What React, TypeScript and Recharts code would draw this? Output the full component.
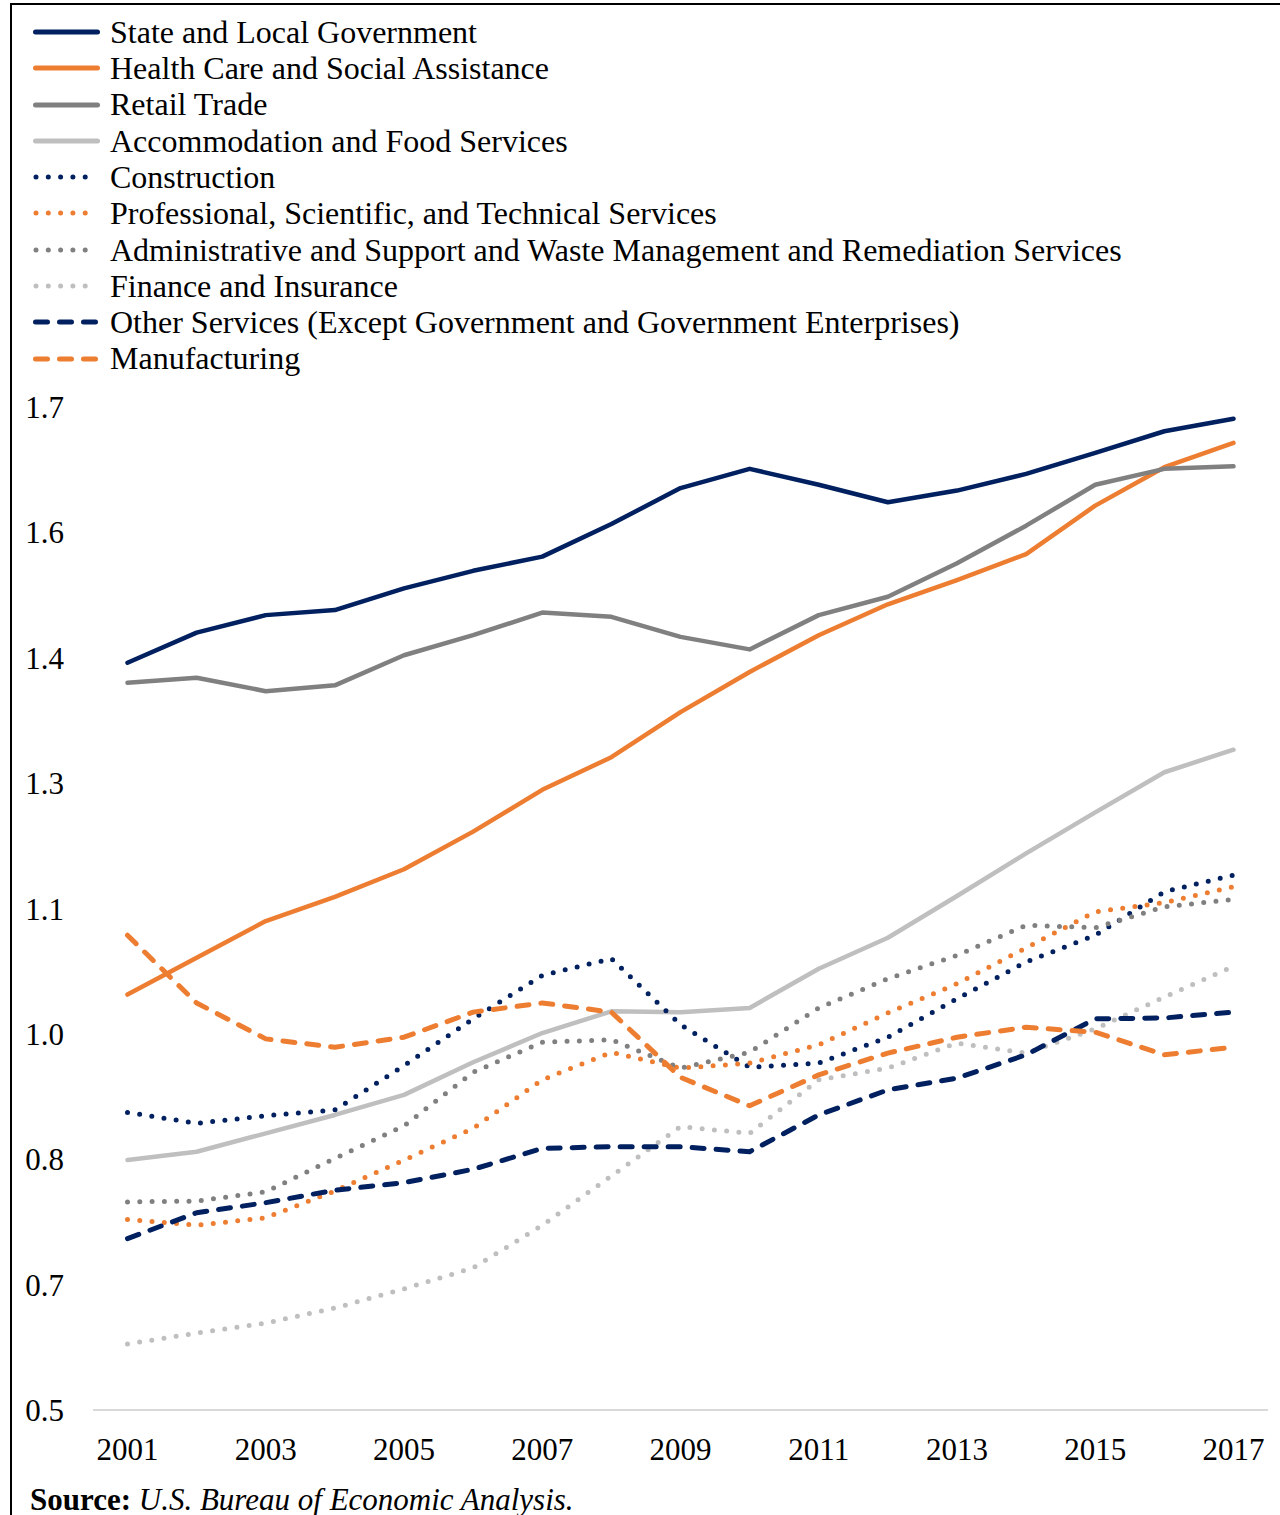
import { CartesianGrid, Line, LineChart, XAxis, YAxis } from 'recharts'

const years = [
  '2001', '2002', '2003', '2004', '2005', '2006', '2007', '2008', '2009',
  '2010', '2011', '2012', '2013', '2014', '2015', '2016', '2017',
]

const stateLocal = [1.394, 1.43, 1.451, 1.457, 1.483, 1.504, 1.521, 1.56, 1.603, 1.626, 1.607, 1.586, 1.6, 1.62, 1.645, 1.671, 1.686]
const healthCare = [0.997, 1.041, 1.085, 1.114, 1.147, 1.192, 1.242, 1.281, 1.335, 1.383, 1.427, 1.464, 1.493, 1.524, 1.582, 1.628, 1.657]
const retail = [1.37, 1.376, 1.36, 1.367, 1.403, 1.427, 1.454, 1.449, 1.425, 1.41, 1.451, 1.473, 1.513, 1.558, 1.607, 1.626, 1.629]
const accommodation = [0.799, 0.809, 0.831, 0.853, 0.877, 0.916, 0.951, 0.977, 0.976, 0.981, 1.028, 1.065, 1.115, 1.166, 1.215, 1.263, 1.29]
const construction = [0.856, 0.843, 0.852, 0.859, 0.912, 0.968, 1.02, 1.04, 0.961, 0.91, 0.915, 0.946, 0.992, 1.036, 1.068, 1.12, 1.14]
const professional = [0.728, 0.721, 0.73, 0.762, 0.799, 0.837, 0.895, 0.928, 0.909, 0.915, 0.937, 0.975, 1.01, 1.053, 1.096, 1.107, 1.126]
const administrative = [0.749, 0.75, 0.761, 0.801, 0.84, 0.904, 0.94, 0.943, 0.909, 0.928, 0.981, 1.016, 1.044, 1.08, 1.077, 1.102, 1.111]
const finance = [0.579, 0.592, 0.604, 0.622, 0.645, 0.67, 0.721, 0.78, 0.839, 0.831, 0.895, 0.909, 0.939, 0.927, 0.956, 0.994, 1.031]
const otherServices = [0.705, 0.736, 0.748, 0.763, 0.772, 0.788, 0.813, 0.815, 0.815, 0.809, 0.853, 0.883, 0.897, 0.925, 0.968, 0.969, 0.976]
const manufacturing = [1.068, 0.987, 0.944, 0.934, 0.946, 0.976, 0.987, 0.976, 0.898, 0.864, 0.901, 0.927, 0.946, 0.958, 0.952, 0.925, 0.934]

const yTicks = [0.5, 0.65, 0.8, 0.95, 1.1, 1.25, 1.4, 1.55, 1.7]
const yTickLabels = ['0.5', '0.7', '0.8', '1.0', '1.1', '1.3', '1.4', '1.6', '1.7']

const NAVY = '#002060'
const ORANGE = '#ED7D31'
const GRAY = '#808080'
const LIGHT = '#BFBFBF'

type Style = 'solid' | 'dot' | 'dash'

const series: { key: string; name: string; values: number[]; color: string; style: Style }[] = [
  { key: 'stateLocal', name: 'State and Local Government', values: stateLocal, color: NAVY, style: 'solid' },
  { key: 'healthCare', name: 'Health Care and Social Assistance', values: healthCare, color: ORANGE, style: 'solid' },
  { key: 'retail', name: 'Retail Trade', values: retail, color: GRAY, style: 'solid' },
  { key: 'accommodation', name: 'Accommodation and Food Services', values: accommodation, color: LIGHT, style: 'solid' },
  { key: 'construction', name: 'Construction', values: construction, color: NAVY, style: 'dot' },
  { key: 'professional', name: 'Professional, Scientific, and Technical Services', values: professional, color: ORANGE, style: 'dot' },
  { key: 'administrative', name: 'Administrative and Support and Waste Management and Remediation Services', values: administrative, color: GRAY, style: 'dot' },
  { key: 'finance', name: 'Finance and Insurance', values: finance, color: LIGHT, style: 'dot' },
  { key: 'otherServices', name: 'Other Services (Except Government and Government Enterprises)', values: otherServices, color: NAVY, style: 'dash' },
  { key: 'manufacturing', name: 'Manufacturing', values: manufacturing, color: ORANGE, style: 'dash' },
]

const data = years.map((year, i) => {
  const row: Record<string, string | number> = { year }
  for (const s of series) row[s.key] = s.values[i]
  return row
})

function dashFor(style: Style): string | undefined {
  if (style === 'dot') return '0 12.3'
  if (style === 'dash') return '12 12'
  return undefined
}

const FONT = "'Liberation Serif', 'Times New Roman', serif"

function LegendBlock() {
  return (
    <div style={{ position: 'absolute', left: 33, top: 13.8, fontFamily: FONT, fontSize: 32, color: '#000' }}>
      {series.map((s) => (
        <div key={s.key} style={{ display: 'flex', alignItems: 'center', height: 36.3, lineHeight: '36.3px', whiteSpace: 'nowrap' }}>
          <svg width={77} height={10} style={{ flex: 'none' }}>
            <line
              x1={s.style === 'dot' ? 3 : 2.5}
              x2={s.style === 'dot' ? 64 : 64.5}
              y1={5}
              y2={5}
              stroke={s.color}
              strokeWidth={5}
              strokeLinecap="round"
              strokeDasharray={dashFor(s.style)}
            />
          </svg>
          <span>{s.name}</span>
        </div>
      ))}
    </div>
  )
}

export default function App() {
  return (
    <div style={{ position: 'fixed', left: 0, top: 0, width: 1280, height: 1515, overflow: 'hidden', background: '#fff' }}>
      <div
        style={{
          position: 'absolute',
          left: 10,
          top: 3,
          width: 1400,
          height: 1600,
          borderLeft: '2px solid #000',
          borderTop: '2px solid #000',
        }}
      />
      <LegendBlock />
      <div style={{ position: 'absolute', left: 0, top: 0 }}>
        {/* x axis height (30) is added on top of the bottom margin */}
        <LineChart
          width={1280}
          height={1515}
          data={data}
          margin={{ top: 407, right: 12, bottom: 75, left: 0 }}
        >
          <CartesianGrid stroke="none" vertical={false} horizontal={false} />
          <XAxis
            dataKey="year"
            interval={1}
            padding={{ left: 34.5, right: 34.5 }}
            axisLine={{ stroke: '#D9D9D9', strokeWidth: 2 }}
            tickLine={false}
            tickSize={0}
            tickMargin={28}
            tick={{ fill: '#000', fontSize: 31, fontFamily: FONT }}
          />
          <YAxis
            type="number"
            domain={[0.5, 1.7]}
            ticks={yTicks}
            width={93}
            axisLine={false}
            tickLine={false}
            tickSize={0}
            tickMargin={29}
            tickFormatter={(v: number) => yTickLabels[yTicks.indexOf(v)] ?? String(v)}
            tick={{ fill: '#000', fontSize: 31, fontFamily: FONT }}
          />
          {series.map((s) => (
            <Line
              key={s.key}
              type="linear"
              dataKey={s.key}
              name={s.name}
              stroke={s.color}
              strokeWidth={s.style === 'solid' ? 4.5 : 5}
              strokeDasharray={dashFor(s.style)}
              strokeLinecap="round"
              strokeLinejoin="round"
              dot={false}
              activeDot={false}
              isAnimationActive={false}
            />
          ))}
        </LineChart>
      </div>
      <div style={{ position: 'absolute', left: 30, top: 1484, fontFamily: FONT, fontSize: 31, lineHeight: '31px', whiteSpace: 'nowrap' }}>
        <b>Source:</b> <i>U.S. Bureau of Economic Analysis.</i>
      </div>
    </div>
  )
}
